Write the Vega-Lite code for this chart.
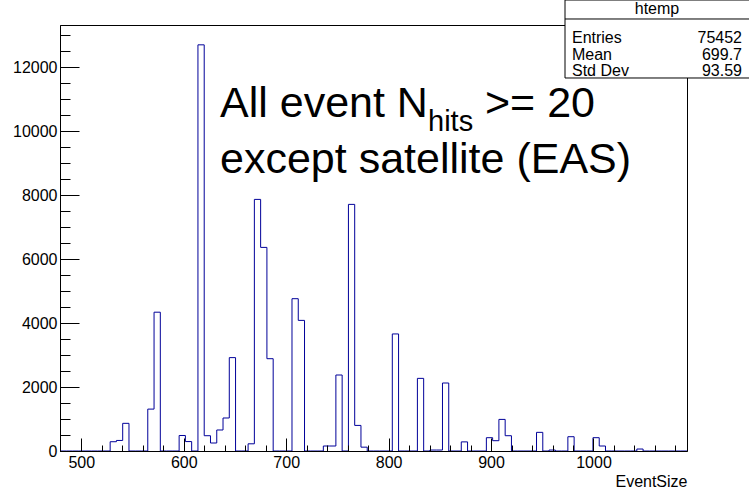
{
  "$schema": "https://vega.github.io/schema/vega-lite/v6.json",
  "autosize": {"type": "none"},
  "padding": {"left": 60, "top": 25, "right": 62, "bottom": 41},
  "width": 627,
  "height": 426,
  "background": "white",
  "config": {"view": {"stroke": "black", "strokeWidth": 1}, "font": "Liberation Sans"},
  "resolve": {"axis": {"x": "independent", "y": "independent"}},
  "layer": [
    {
      "data": {"values": [
        {"lo": 479.20, "n": 0}, {"lo": 485.32, "n": 0}, {"lo": 491.44, "n": 0}, {"lo": 497.56, "n": 0},
        {"lo": 503.68, "n": 0}, {"lo": 509.81, "n": 0}, {"lo": 515.93, "n": 0}, {"lo": 522.05, "n": 0},
        {"lo": 528.17, "n": 290}, {"lo": 534.29, "n": 330}, {"lo": 540.41, "n": 865}, {"lo": 546.53, "n": 0},
        {"lo": 552.65, "n": 0}, {"lo": 558.77, "n": 0}, {"lo": 564.89, "n": 1310}, {"lo": 571.02, "n": 4340},
        {"lo": 577.14, "n": 0}, {"lo": 583.26, "n": 0}, {"lo": 589.38, "n": 0}, {"lo": 595.50, "n": 485},
        {"lo": 601.62, "n": 295}, {"lo": 607.74, "n": 0}, {"lo": 613.86, "n": 12700}, {"lo": 619.98, "n": 478},
        {"lo": 626.10, "n": 250}, {"lo": 632.23, "n": 657}, {"lo": 638.35, "n": 1032}, {"lo": 644.47, "n": 2920},
        {"lo": 650.59, "n": 0}, {"lo": 656.71, "n": 0}, {"lo": 662.83, "n": 225}, {"lo": 668.95, "n": 7867},
        {"lo": 675.07, "n": 6366}, {"lo": 681.19, "n": 2886}, {"lo": 687.31, "n": 0}, {"lo": 693.44, "n": 0},
        {"lo": 699.56, "n": 0}, {"lo": 705.68, "n": 4762}, {"lo": 711.80, "n": 4084}, {"lo": 717.92, "n": 0},
        {"lo": 724.04, "n": 0}, {"lo": 730.16, "n": 0}, {"lo": 736.28, "n": 156}, {"lo": 742.40, "n": 156},
        {"lo": 748.52, "n": 2376}, {"lo": 754.65, "n": 0}, {"lo": 760.77, "n": 7711}, {"lo": 766.89, "n": 800},
        {"lo": 773.01, "n": 120}, {"lo": 779.13, "n": 0}, {"lo": 785.25, "n": 0}, {"lo": 791.37, "n": 0},
        {"lo": 797.49, "n": 0}, {"lo": 803.61, "n": 3660}, {"lo": 809.73, "n": 0}, {"lo": 815.86, "n": 0},
        {"lo": 821.98, "n": 0}, {"lo": 828.10, "n": 2271}, {"lo": 834.22, "n": 0}, {"lo": 840.34, "n": 30},
        {"lo": 846.46, "n": 30}, {"lo": 852.58, "n": 2126}, {"lo": 858.70, "n": 0}, {"lo": 864.82, "n": 0},
        {"lo": 870.94, "n": 285}, {"lo": 877.07, "n": 0}, {"lo": 883.19, "n": 0}, {"lo": 889.31, "n": 0},
        {"lo": 895.43, "n": 416}, {"lo": 901.55, "n": 322}, {"lo": 907.67, "n": 988}, {"lo": 913.79, "n": 478},
        {"lo": 919.91, "n": 0}, {"lo": 926.03, "n": 0}, {"lo": 932.15, "n": 0}, {"lo": 938.28, "n": 0},
        {"lo": 944.40, "n": 583}, {"lo": 950.52, "n": 0}, {"lo": 956.64, "n": 30}, {"lo": 962.76, "n": 0},
        {"lo": 968.88, "n": 0}, {"lo": 975.00, "n": 447}, {"lo": 981.12, "n": 0}, {"lo": 987.24, "n": 0},
        {"lo": 993.36, "n": 0}, {"lo": 999.49, "n": 416}, {"lo": 1005.61, "n": 156}, {"lo": 1011.73, "n": 0},
        {"lo": 1017.85, "n": 0}, {"lo": 1023.97, "n": 0}, {"lo": 1030.09, "n": 0}, {"lo": 1036.21, "n": 0},
        {"lo": 1042.33, "n": 62}, {"lo": 1048.45, "n": 0}, {"lo": 1054.57, "n": 0}, {"lo": 1060.70, "n": 0},
        {"lo": 1066.82, "n": 0}, {"lo": 1072.94, "n": 0}, {"lo": 1079.06, "n": 0}, {"lo": 1085.18, "n": 0},
        {"lo": 1091.30, "n": 0}
      ]},
      "mark": {"type": "line", "interpolate": "step-after", "color": "#000099", "strokeWidth": 1},
      "encoding": {
        "x": {
          "field": "lo", "type": "quantitative",
          "scale": {"domain": [479.2, 1091.3], "nice": false, "zero": false},
          "axis": {
            "orient": "bottom",
            "offset": -13,
            "values": [500, 600, 700, 800, 900, 1000],
            "format": "d",
            "domain": false,
            "ticks": true,
            "tickSize": 13,
            "tickColor": "black",
            "labelPadding": 16,
            "labelBaseline": "alphabetic",
            "labelFlush": false,
            "labelOverlap": false,
            "labelFont": "Liberation Sans", "labelFontSize": 16, "labelColor": "black",
            "grid": false, "zindex": 1,
            "title": "EventSize", "titleAnchor": "end", "titleFont": "Liberation Sans",
            "titleFontSize": 16, "titleFontWeight": "normal", "titleColor": "black",
            "titleBaseline": "alphabetic", "titleY": 48
          }
        },
        "y": {
          "field": "n", "type": "quantitative",
          "scale": {"domain": [0, 13320], "nice": false},
          "axis": {
            "orient": "left",
            "offset": -19,
            "values": [0, 2000, 4000, 6000, 8000, 10000, 12000],
            "format": "d",
            "domain": false,
            "ticks": true,
            "tickSize": 19,
            "tickColor": "black",
            "labelPadding": 3,
            "labelFlush": false,
            "labelOverlap": false,
            "labelFont": "Liberation Sans", "labelFontSize": 16, "labelColor": "black",
            "grid": false, "zindex": 1,
            "title": null
          }
        }
      }
    },
    {
      "data": {"values": [{}]},
      "mark": {"type": "rect", "fill": "white", "stroke": "black", "strokeWidth": 1},
      "encoding": {
        "x": {
          "datum": 972.2, "type": "quantitative",
          "axis": {
            "orient": "top",
            "offset": -426,
            "values": [500,520,540,560,580,600,620,640,660,680,700,720,740,760,780,800,820,840,860,880,900,920,940,960,980,1000,1020,1040,1060,1080],
            "domain": true, "domainColor": "black",
            "ticks": true, "tickSize": 6, "tickColor": "black",
            "labels": false, "grid": false, "zindex": 1, "title": null
          }
        },
        "x2": {"datum": 1155},
        "y": {
          "datum": 14102, "type": "quantitative",
          "axis": {
            "orient": "right",
            "offset": -627,
            "values": [0,500,1000,1500,2000,2500,3000,3500,4000,4500,5000,5500,6000,6500,7000,7500,8000,8500,9000,9500,10000,10500,11000,11500,12000,12500,13000],
            "domain": true, "domainColor": "black",
            "ticks": true, "tickSize": 10, "tickColor": "black",
            "labels": false, "grid": false, "zindex": 1, "title": null
          }
        },
        "y2": {"datum": 11663}
      }
    },
    {
      "data": {"values": [{}]},
      "mark": {"type": "text", "font": "Liberation Sans", "fontSize": 43, "align": "left", "baseline": "alphabetic", "color": "black"},
      "encoding": {
        "x": {"datum": 635.4, "type": "quantitative", "axis": null},
        "y": {"datum": 10434, "type": "quantitative", "axis": null},
        "text": {"value": "All event N"}
      }
    },
    {
      "data": {"values": [{}]},
      "mark": {"type": "text", "font": "Liberation Sans", "fontSize": 29, "align": "left", "baseline": "alphabetic", "color": "black"},
      "encoding": {
        "x": {"datum": 838.5, "type": "quantitative", "axis": null},
        "y": {"datum": 10006, "type": "quantitative", "axis": null},
        "text": {"value": "hits"}
      }
    },
    {
      "data": {"values": [{}]},
      "mark": {"type": "text", "font": "Liberation Sans", "fontSize": 43, "align": "left", "baseline": "alphabetic", "color": "black"},
      "encoding": {
        "x": {"datum": 894.1, "type": "quantitative", "axis": null},
        "y": {"datum": 10434, "type": "quantitative", "axis": null},
        "text": {"value": ">= 20"}
      }
    },
    {
      "data": {"values": [{}]},
      "mark": {"type": "text", "font": "Liberation Sans", "fontSize": 43, "align": "left", "baseline": "alphabetic", "color": "black"},
      "encoding": {
        "x": {"datum": 635.4, "type": "quantitative", "axis": null},
        "y": {"datum": 8683, "type": "quantitative", "axis": null},
        "text": {"value": "except satellite (EAS)"}
      }
    },
    {
      "data": {"values": [{}]},
      "mark": {"type": "rule", "color": "black", "strokeWidth": 1},
      "encoding": {
        "x": {"datum": 972.2, "type": "quantitative", "axis": null},
        "x2": {"datum": 1155},
        "y": {"datum": 13508, "type": "quantitative", "axis": null}
      }
    },
    {
      "data": {"values": [{}]},
      "mark": {"type": "text", "font": "Liberation Sans", "fontSize": 16, "align": "center", "baseline": "middle", "color": "black"},
      "encoding": {
        "x": {"datum": 1062.0, "type": "quantitative", "axis": null},
        "y": {"datum": 13805, "type": "quantitative", "axis": null},
        "text": {"value": "htemp"}
      }
    },
    {
      "data": {"values": [
        {"label": "Entries", "value": "75452", "row": 12914},
        {"label": "Mean", "value": "699.7", "row": 12382},
        {"label": "Std Dev", "value": "93.59", "row": 11882}
      ]},
      "layer": [
        {
          "mark": {"type": "text", "font": "Liberation Sans", "fontSize": 16, "align": "left", "baseline": "middle", "color": "black"},
          "encoding": {
            "x": {"datum": 979.0, "type": "quantitative", "axis": null},
            "y": {"field": "row", "type": "quantitative", "axis": null},
            "text": {"field": "label"}
          }
        },
        {
          "mark": {"type": "text", "font": "Liberation Sans", "fontSize": 16, "align": "right", "baseline": "middle", "color": "black"},
          "encoding": {
            "x": {"datum": 1145.0, "type": "quantitative", "axis": null},
            "y": {"field": "row", "type": "quantitative", "axis": null},
            "text": {"field": "value"}
          }
        }
      ]
    }
  ]
}
